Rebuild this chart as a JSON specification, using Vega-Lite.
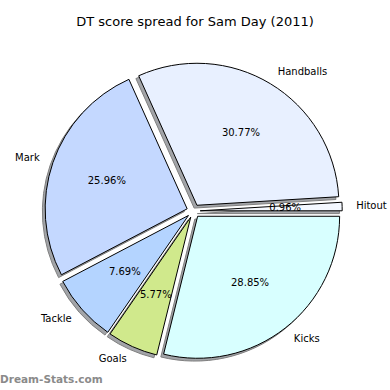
{
  "$schema": "https://vega.github.io/schema/vega-lite/v6.json",
  "width": 387,
  "height": 358,
  "autosize": "none",
  "padding": {"left": 0, "top": 32, "right": 3, "bottom": 0},
  "background": "white",
  "config": {"view": {"stroke": null}, "font": "DejaVu Sans"},
  "title": {"text": "DT score spread for Sam Day (2011)", "fontSize": 13, "fontWeight": "normal", "font": "DejaVu Sans", "color": "black", "offset": 3, "dx": 1.5},
  "data": {"values": [
    {"label": "Kicks", "share": 0.2885, "rank": 1},
    {"label": "Goals", "share": 0.0577, "rank": 2},
    {"label": "Tackle", "share": 0.0769, "rank": 3},
    {"label": "Mark", "share": 0.2596, "rank": 4},
    {"label": "Handballs", "share": 0.3077, "rank": 5},
    {"label": "Hitout", "share": 0.0096, "rank": 6}
  ]},
  "encoding": {
    "theta": {"field": "share", "type": "quantitative", "stack": true, "scale": {"range": [1.5707963, 7.8539816]}},
    "order": {"field": "rank", "type": "quantitative"}
  },
  "layer": [
    {
      "mark": {"type": "arc", "outerRadius": 142, "fill": "#a2a4a8", "stroke": "#808080", "strokeWidth": 1,
        "xOffset": {"expr": "-2.8 + 6.7*sin(scale('theta', (datum.share_start+datum.share_end)/2))"},
        "yOffset": {"expr": "2.8 - 6.7*cos(scale('theta', (datum.share_start+datum.share_end)/2))"}}
    },
    {
      "mark": {"type": "arc", "outerRadius": 142, "stroke": "black", "strokeWidth": 1,
        "xOffset": {"expr": "6.7*sin(scale('theta', (datum.share_start+datum.share_end)/2))"},
        "yOffset": {"expr": "-6.7*cos(scale('theta', (datum.share_start+datum.share_end)/2))"}},
      "encoding": {
        "color": {"field": "label", "type": "nominal", "legend": null,
          "scale": {"domain": ["Kicks", "Goals", "Tackle", "Mark", "Handballs", "Hitout"],
                    "range": ["#d8ffff", "#d0e98c", "#b4d4ff", "#c4d8ff", "#e8f0ff", "#f4f8ff"]}}
      }
    },
    {
      "mark": {"type": "text", "radius": 85, "fontSize": 10, "font": "DejaVu Sans", "color": "black", "align": "center", "baseline": "middle",
        "xOffset": {"expr": "6.7*sin(scale('theta', (datum.share_start+datum.share_end)/2))"},
        "yOffset": {"expr": "-6.7*cos(scale('theta', (datum.share_start+datum.share_end)/2))"}},
      "encoding": {"text": {"field": "share", "type": "quantitative", "format": ".2%"}}
    },
    {
      "mark": {"type": "text", "radius": 156, "fontSize": 10, "font": "DejaVu Sans", "color": "black", "baseline": "middle",
        "align": {"expr": "sin(scale('theta', (datum.share_start+datum.share_end)/2)) > 0 ? 'left' : 'right'"},
        "xOffset": {"expr": "6.7*sin(scale('theta', (datum.share_start+datum.share_end)/2))"},
        "yOffset": {"expr": "-6.7*cos(scale('theta', (datum.share_start+datum.share_end)/2))"}},
      "encoding": {"text": {"field": "label", "type": "nominal"}}
    },
    {
      "data": {"values": [{"t": "Dream-Stats.com"}]},
      "mark": {"type": "text", "x": 0, "y": {"expr": "height - 10"}, "align": "left", "baseline": "middle", "fontSize": 10.5, "fontWeight": "bold", "font": "DejaVu Sans", "color": "#8a8a8a"},
      "encoding": {"text": {"field": "t", "type": "nominal"}, "theta": null, "order": null}
    }
  ]
}
